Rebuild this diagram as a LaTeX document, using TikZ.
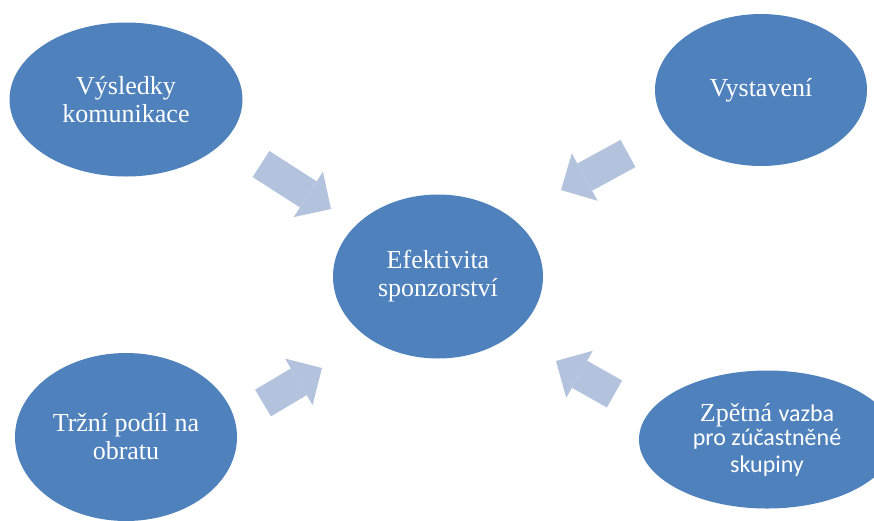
\documentclass[tikz,border=0pt]{standalone}
\usepackage{fontspec}
\setmainfont{Liberation Serif}
\newfontfamily\sansik{Carlito}
\usetikzlibrary{shapes.geometric,arrows.meta}
\definecolor{modra}{HTML}{4F81BD}
\definecolor{svetlemodra}{HTML}{B3C3DE}
\newcommand{\bezpatky}{\sansik\fontsize{24}{28}\selectfont}
\tikzset{
  kruh/.style={ellipse, fill=modra, text=white, align=center, inner sep=0pt,
    font=\fontsize{26}{28}\selectfont},
  sipka/.style={draw=svetlemodra, line width=31pt,
    -{Triangle[width=54pt,length=27pt,line width=0pt]}}
}
\begin{document}
\begin{tikzpicture}[x=1pt,y=-1pt]
    \useasboundingbox (0,0) rectangle (874,520);
    \node[kruh, minimum width=233, minimum height=154] (vysledky) at (126,99.5) {Výsledky\\komunikace};
    \node[kruh, minimum width=212, minimum height=152] (vystaveni) at (761,90) {Vystavení};
    \node[kruh, minimum width=210, minimum height=164] (efekt) at (438,276.5) {Efektivita\\sponzorství};
    \node[kruh, minimum width=222, minimum height=168] (trzni) at (126,437) {Tržní podíl na\\obratu};
    \node[kruh, minimum width=256, minimum height=138] (zpetna) at (767,439.5)
      {Zpětná {\bezpatky vazba}\\[-4pt]{\bezpatky pro zúčastněné}\\[-1pt]{\bezpatky skupiny}};
    % sipky do stredu
    \coordinate (s1) at (261,164);
    \coordinate (k1) at (331,209);
    \coordinate (s2) at (628,153.5);
    \coordinate (k2) at (561,190);
    \coordinate (s3) at (263,403);
    \coordinate (k3) at (322,368);
    \coordinate (s4) at (614.5,394);
    \coordinate (k4) at (556,361);
    \draw[sipka] (s1) -- (k1);
    \draw[sipka] (s2) -- (k2);
    \draw[sipka] (s3) -- (k3);
    \draw[sipka] (s4) -- (k4);
\end{tikzpicture}
\end{document}
